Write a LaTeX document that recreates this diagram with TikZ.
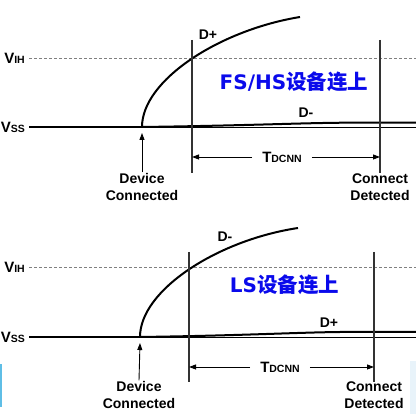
\documentclass[tikz,border=0pt]{standalone}
\usepackage{fontspec}
\setmainfont{Liberation Sans}
\newfontfamily\cjk{Noto Sans CJK SC}
\newfontfamily\dejavu{DejaVu Sans}
\usetikzlibrary{arrows.meta}
\newcommand{\subtxt}[1]{{\fontsize{10.5}{11}\selectfont #1}}
\definecolor{stripblue}{RGB}{95,190,230}
\definecolor{paleblue}{RGB}{232,243,250}
\definecolor{noteblue}{RGB}{10,10,235}

\begin{document}
\begin{tikzpicture}[x=1pt, y=-1pt] % сетка в пикселях
\tikzstyle{mysig} = [line width=2pt] % signal line style
\tikzstyle{myaxis} = [line width=0.9pt] % zero level
\tikzstyle{mylvl} = [gray, line width=0.6pt, dash pattern=on 3pt off 2pt] % V_IH level
\tikzstyle{mymark} = [black!80, line width=1.1pt] % vertical marks
\tikzstyle{myarrow} = [line width=0.9pt, -{Triangle[length=7pt, width=5pt]}]
\tikzstyle{mylabel} = [font=\bfseries\fontsize{14}{16.5}\selectfont, inner sep=1pt, align=center]
\tikzstyle{mynote} = [text=noteblue, font=\bfseries, inner sep=0pt]

\useasboundingbox (0,0) rectangle (416,414);
\fill[stripblue] (0,364) rectangle (1.5,407);
\fill[paleblue] (410,361) rectangle (416,414);

% FS/HS
\begin{scope}
\node[mylabel, anchor=east] (vih) at (26,58) {\fontsize{15}{16}\selectfont V\subtxt{IH}};
\node[mylabel, anchor=east] (vss) at (26,127) {\fontsize{15}{16}\selectfont V\subtxt{SS}};
\coordinate (vihR) at (416,58);
\coordinate (dc) at (142,127); % device connected
\coordinate (dcTip) at (142,133);
\coordinate (endA) at (416,127);
\coordinate (dpTop) at (300,17);
\coordinate (dmEnd) at (345,122.7);
\coordinate (dmR) at (416,122.7);
\coordinate (m1t) at (192,40); \coordinate (m1b) at (192,173);
\coordinate (m2t) at (380,40); \coordinate (m2b) at (380,173);
\draw[mylvl] ([xshift=3pt]vih.east) -- (vihR);
\draw[mysig] ([xshift=3pt]vss.east) -- (dc);
\draw[myaxis] (dc) -- (endA);
\draw[mysig] (dc) .. controls (142,80) and (220,30) .. (dpTop); % D+
\draw[mysig] (dc) .. controls (250,125.5) and (300,123) .. (dmEnd) -- (dmR); % D-
\draw[mymark] (m1t) -- (m1b);
\draw[mymark] (m2t) -- (m2b);
\node[mylabel] (dpL) at (208,35) {D+};
\node[mylabel] (dmL) at (306,113) {D-};
\node[mylabel, inner xsep=10pt] (td) at (282,157) {\fontsize{15}{16}\selectfont T\subtxt{DCNN}};
\draw[myarrow] (td.west) -- (td.west -| m1t);
\draw[myarrow] (td.east) -- (td.east -| m2t);
\node[mylabel] (dev) at (142,187) {Device\\Connected};
\draw[myarrow] (dev.north) -- (dcTip);
\node[mylabel] (det) at (380,187) {Connect\\Detected};
\node[mynote] (fs) at (294,82) {\dejavu\fontsize{20}{22}\selectfont FS/HS\cjk\fontsize{20.5}{22}\selectfont 设备连上};
\end{scope}

% LS
\begin{scope}[shift={(0,210)}]
\node[mylabel, anchor=east] (vih) at (26,57) {\fontsize{15}{16}\selectfont V\subtxt{IH}};
\node[mylabel, anchor=east] (vss) at (26,127) {\fontsize{15}{16}\selectfont V\subtxt{SS}};
\coordinate (vihR) at (416,57);
\coordinate (dc) at (140,127);
\coordinate (dcTip) at (140,133);
\coordinate (endA) at (416,127);
\coordinate (dmTop) at (298,18);
\coordinate (dpEnd) at (340,122);
\coordinate (dpR) at (416,122);
\coordinate (m1t) at (189,42); \coordinate (m1b) at (189,172);
\coordinate (m2t) at (374,42); \coordinate (m2b) at (374,172);
\draw[mylvl] ([xshift=3pt]vih.east) -- (vihR);
\draw[mysig] ([xshift=3pt]vss.east) -- (dc);
\draw[myaxis] (dc) -- (endA);
\draw[mysig] (dc) .. controls (140,80) and (218,30) .. (dmTop); % D-
\draw[mysig] (dc) .. controls (245,125.5) and (295,122.5) .. (dpEnd) -- (dpR); % D+
\draw[mymark] (m1t) -- (m1b);
\draw[mymark] (m2t) -- (m2b);
\node[mylabel] (dmL) at (225,27) {D-};
\node[mylabel] (dpL) at (329,113) {D+};
\node[mylabel, inner xsep=10pt] (td) at (280,157) {\fontsize{15}{16}\selectfont T\subtxt{DCNN}};
\draw[myarrow] (td.west) -- (td.west -| m1t);
\draw[myarrow] (td.east) -- (td.east -| m2t);
\node[mylabel] (dev) at (139,185) {Device\\Connected};
\draw[myarrow] (dev.north) -- (dcTip);
\node[mylabel] (det) at (374,185) {Connect\\Detected};
\node[mynote] (ls) at (284.5,75) {\dejavu\fontsize{20}{22}\selectfont LS\cjk\fontsize{20.5}{22}\selectfont 设备连上};
\end{scope}
\end{tikzpicture}
\end{document}
